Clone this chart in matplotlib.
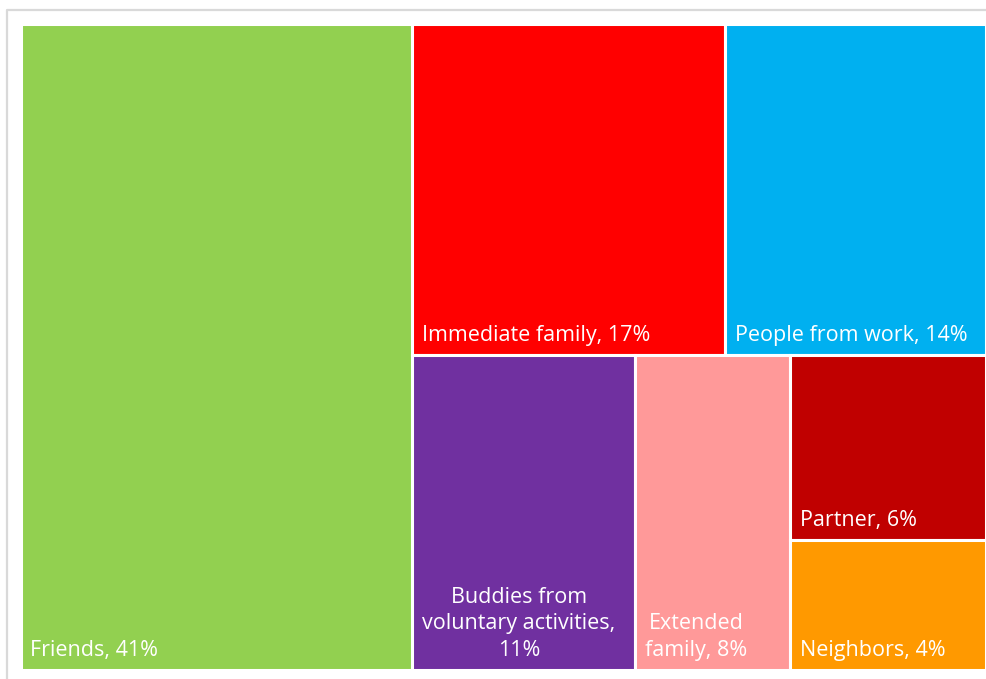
import matplotlib
matplotlib.use("Agg")
import matplotlib.pyplot as plt
from matplotlib.patches import Rectangle

# ---- data ----
categories = ["Friends", "Immediate family", "People from work",
              "Buddies from voluntary activities", "Extended family",
              "Partner", "Neighbors"]
label_text = ["Friends, 41%", "Immediate family, 17%", "People from work, 14%",
              "Buddies from\nvoluntary activities,\n11%", "Extended\nfamily, 8%",
              "Partner, 6%", "Neighbors, 4%"]
values = [40.6, 16.6, 13.9, 11.2, 7.8, 5.8, 4.1]
colors = ["#92D050", "#FF0000", "#00B0F0", "#7030A0", "#FF9999", "#C00000", "#FF9900"]

# split structure (indices only): 'h' = side by side, 'v' = stacked
structure = ("h", [0, ("v", [("h", [1, 2]), ("h", [3, 4, ("v", [5, 6])])])])


def total(node):
    if isinstance(node, int):
        return values[node]
    return sum(total(c) for c in node[1])


def layout(node, x, y, w, h, out):
    if isinstance(node, int):
        out[node] = (x, y, w, h)
        return
    d, children = node
    t = total(node)
    pos = 0.0
    for c in children:
        f = total(c) / t
        if d == "h":
            layout(c, x + pos * w, y, w * f, h, out)
        else:
            layout(c, x, y + pos * h, w, h * f, out)
        pos += f


W_PX, H_PX = 987, 679
fig = plt.figure(figsize=(W_PX / 100, H_PX / 100), dpi=100)
ax = fig.add_axes([0, 0, 1, 1])
ax.set_xlim(0, W_PX)
ax.set_ylim(H_PX, 0)
ax.axis("off")

# outer frame
ax.plot([7, 7, 1000], [700, 9.5, 9.5], color="#D9D9D9", lw=1.6, solid_capstyle="butt")

rects = {}
layout(structure, 20.5, 23.5, 965.5, 646.5, rects)

for i, (x, y, w, h) in rects.items():
    ax.add_patch(Rectangle((x, y), w, h, facecolor=colors[i], edgecolor="white", lw=2.2))
    ax.text(x + 10, y + h - 9, label_text[i], color="white", ha="left", va="bottom",
            multialignment="center", fontsize=15.5, family="Open Sans", linespacing=1.35)

fig.savefig("out.png", dpi=100)
